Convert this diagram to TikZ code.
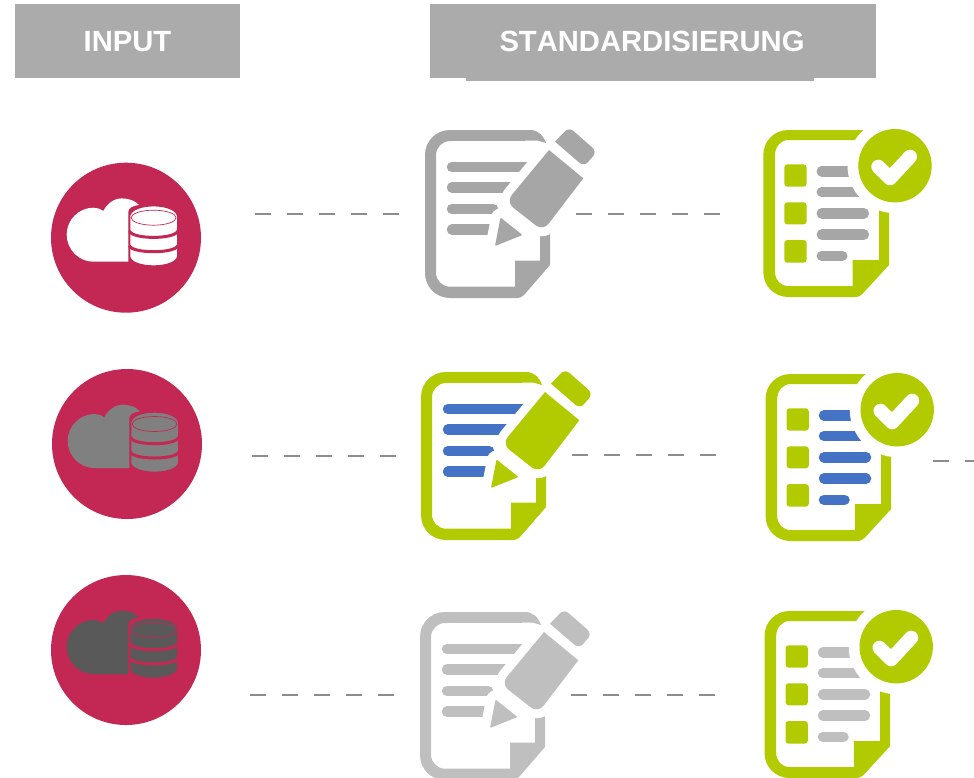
\documentclass[tikz,border=0pt]{standalone}
\usepackage{fontspec}
\setmainfont[Kerning=Off]{Liberation Sans}
\definecolor{discred}{HTML}{C32854}
\definecolor{headgray}{HTML}{ABABAB}
\definecolor{docgray}{HTML}{A6A6A6}
\definecolor{palegray}{HTML}{BFBFBF}
\definecolor{docgreen}{HTML}{B2CA00}
\definecolor{barblue}{HTML}{4472C4}
\definecolor{dashgray}{HTML}{8C8C8C}
\tikzstyle{disc}=[circle, fill=discred, inner sep=0pt, minimum size=150pt]
\tikzstyle{head}=[fill=headgray, inner sep=0pt, minimum height=74pt]
\tikzstyle{headtext}=[text=white, inner sep=0pt, font=\fontsize{29.2}{30}\selectfont\bfseries]
\tikzstyle{link}=[dashgray, line width=2.5pt, dash pattern=on 16pt off 16pt]
\tikzstyle{bar}=[line width=10.5pt, line cap=round]
\newcommand{\disc}{\node[disc]}
\newcommand{\head}{\node[head]}
\newcommand{\cloudbase}[3]{
\begin{scope}[shift={(#1,#2)}]
\fill[#3] (2.3,24) -- (-32.7,24) .. controls (-47,24) and (-59.3,12) .. (-59.3,-3.3) .. controls (-59.3,-18) and (-47,-30) .. (-32.7,-30) .. controls (-29,-30) and (-26,-29) .. (-22.7,-26.7) .. controls (-19,-34) and (-12,-39.3) .. (-4.3,-39.3) .. controls (3,-39.3) and (9,-37) .. (13,-32.7) .. controls (7,-32) and (2.3,-30) .. (2.3,-26) -- cycle;
\filldraw[fill=#3, draw=discred, line width=1.5pt] (3.5,-21.7) -- (3.5,19) .. controls (6,31.5) and (49,31.5) .. (51.8,19) -- (51.8,-21.7) .. controls (49,-35.5) and (6,-35.5) .. (3.5,-21.7) -- cycle;
\draw[discred, line width=0.7pt] (27.6,-20) ellipse [x radius=22.5pt, y radius=7.5pt];
\draw[discred, line width=3pt] (3.5,-6.7) .. controls (6,1.8) and (49,1.8) .. (51.8,-6.7);
\draw[discred, line width=3pt] (3.5,8) .. controls (6,16) and (49,16) .. (51.8,8);
\end{scope}}
\newcommand{\editdoc}[5]{
\begin{scope}[shift={(#1,#2)}]
\fill[#3] (121,13) .. controls (118,5) and (113,0) .. (105,0) -- (25,0) .. controls (11,0) and (0,11) .. (0,25) -- (0,143) .. controls (0,157) and (11,168) .. (25,168) -- (91,168) .. controls (95,168) and (97,167) .. (99,165) -- (125,135) -- (125,95) -- (115,105) -- (115,130.7) -- (90,130.7) -- (90,156.7) -- (25,156.7) .. controls (17.3,156.7) and (11,150.4) .. (11,142.7) -- (11,25) .. controls (11,17.3) and (17.3,11) .. (25,11) -- (113,10.7) -- cycle;
\draw[bar, #4] (27,37) -- (110,37);
\draw[bar, #4] (27,57.5) -- (90,57.5);
\draw[bar, #4] (27,79) -- (68,79);
\draw[bar, #4] (27,99.7) -- (64,99.7);
\draw[white, line width=18pt, line join=round, rounded corners=9pt] (124,20) -- (158.3,48.3) -- (118,101) -- (81,72) -- cycle;
\draw[white, line width=20pt, line join=round] (76,88.3) -- (96.7,105) -- (70.7,115) -- cycle;
\fill[#5] (124,20) -- (158.3,48.3) [rounded corners=9pt] -- (118,101) -- (81,72) [sharp corners] -- cycle;
\fill[#5, rounded corners=1pt] (75.5,87.5) -- (97.5,105) -- (70,116) -- cycle;
\fill[#5, rounded corners=6pt] (130,11.7) -- (144,-3) -- (172,21.7) -- (159,36.7) [sharp corners] -- cycle;
\end{scope}}
\newcommand{\tickdoc}[3]{
\begin{scope}[shift={(#1,#2)}]
\fill[docgreen] (125.7,0) -- (25,0) .. controls (11,0) and (0,11) .. (0,25) -- (0,142) .. controls (0,156) and (11,167) .. (25,167) -- (91,167) .. controls (95,167) and (97,166) .. (99,164) -- (125.7,135) -- cycle (115.7,10) -- (115.7,130) -- (89.3,130) -- (89.3,156) -- (25,156) .. controls (17.3,156) and (11.7,150) .. (11.7,142) -- (11.7,25) .. controls (11.7,17) and (17.3,10) .. (25,10) -- cycle;
\fill[docgreen, rounded corners=3pt] (21,34.3) rectangle (43.3,56.7);
\fill[docgreen, rounded corners=3pt] (21,72.3) rectangle (43.3,94.3);
\fill[docgreen, rounded corners=3pt] (21,110) rectangle (43.3,132.7);
\draw[bar, #3] (58.5,41.3) -- (100.5,41.3);
\draw[bar, #3] (58.5,62) -- (100.5,62);
\draw[bar, #3] (58.5,83.3) -- (100.5,83.3);
\draw[bar, #3] (58.5,104.6) -- (100.5,104.6);
\draw[bar, #3] (58.5,125.8) -- (79,125.8);
\fill[white] (131.7,35.7) circle [radius=47.5pt];
\fill[docgreen] (131.7,35.7) circle [radius=36.7pt];
\draw[white, line width=14pt, line cap=round, line join=round] (115,36.7) -- (126.7,48.3) -- (146.7,26.7);
\end{scope}}
\begin{document}
\begin{tikzpicture}[x=1pt,y=-1pt]
\useasboundingbox (0,0) rectangle (974,777);
\head (input) at (127.5,41) [minimum width=225pt]{};
\fill[headgray] (466,70) rectangle (814,81);
\head (standard) at (653,41) [minimum width=446pt]{};
\node[headtext] (inputtext) at (127.5,41.5){INPUT};
\node[headtext] (standardtext) at (652,41.5){STANDARDISIERUNG};
\disc (disca) at (126,237.7){};
\disc (discb) at (127,444){};
\disc (discc) at (126,650){};
\cloudbase{126}{237.7}{white}
\cloudbase{127}{444}{gray}
\cloudbase{126}{650}{black!65}
\editdoc{425}{130}{docgray}{docgray}{docgray}
\editdoc{421}{372}{docgreen}{barblue}{docgreen}
\editdoc{420}{612}{palegray}{palegray}{palegray}
\tickdoc{763.3}{130}{docgray}
\tickdoc{765.5}{374}{barblue}
\tickdoc{764.5}{611}{palegray}
\coordinate (a1) at (255,214);
\coordinate (a2) at (400,214);
\coordinate (a3) at (576,214);
\coordinate (a4) at (721,214);
\coordinate (b1) at (252,456);
\coordinate (b2) at (397,456);
\coordinate (b3) at (572,455);
\coordinate (b4) at (717,455);
\coordinate (b5) at (933,461);
\coordinate (b6) at (974,461);
\coordinate (c1) at (250,695);
\coordinate (c2) at (395,695);
\coordinate (c3) at (571,695);
\coordinate (c4) at (716,695);
\draw[link] (a1)--(a2);
\draw[link] (a3)--(a4);
\draw[link] (b1)--(b2);
\draw[link] (b3)--(b4);
\draw[link] (b5)--(b6);
\draw[link] (c1)--(c2);
\draw[link] (c3)--(c4);
\end{tikzpicture}
\end{document}
